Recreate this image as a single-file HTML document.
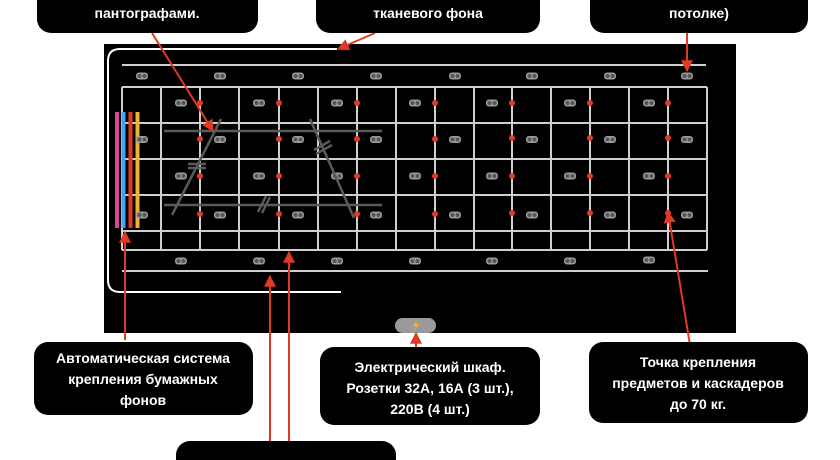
<!DOCTYPE html>
<html><head><meta charset="utf-8"><style>
html,body{margin:0;padding:0;background:#fff;width:840px;height:460px;overflow:hidden}
svg{display:block}
text{font-family:"Liberation Sans",sans-serif;font-size:14px;font-weight:bold;fill:#fff;text-anchor:middle}
</style></head><body>
<svg width="840" height="460" viewBox="0 0 840 460" xmlns="http://www.w3.org/2000/svg">
<defs>
<g id="ic"><rect x="-6" y="-3.5" width="12" height="7" rx="3" fill="#9a9a9a"/><circle cx="-2.5" cy="0" r="2" fill="#555"/><circle cx="2.5" cy="0" r="2" fill="#555"/></g>
<marker id="ah" viewBox="0 0 10 10" refX="9" refY="5" markerWidth="6" markerHeight="6" orient="auto"><path d="M0,0L10,5L0,10z" fill="#e03a25"/></marker>
</defs>
<rect x="104" y="44" width="632" height="289" fill="#000"/>
<path d="M337,49 H120 Q108,49 108,61 V280 Q108,292 120,292 H341" fill="none" stroke="#fff" stroke-width="2"/>
<g stroke="#cfcfcf" stroke-width="2" fill="none">
<line x1="122" y1="65" x2="706" y2="65"/>
<line x1="122" y1="271" x2="708" y2="271"/>
<line x1="122" y1="87" x2="707" y2="87"/>
<line x1="122" y1="123" x2="707" y2="123"/>
<line x1="122" y1="159" x2="707" y2="159"/>
<line x1="122" y1="195" x2="707" y2="195"/>
<line x1="122" y1="231" x2="707" y2="231"/>
<line x1="122" y1="250" x2="707" y2="250"/>
<line x1="122" y1="87" x2="122" y2="250"/><line x1="161" y1="87" x2="161" y2="250"/><line x1="200" y1="87" x2="200" y2="250"/><line x1="239" y1="87" x2="239" y2="250"/><line x1="279" y1="87" x2="279" y2="250"/><line x1="318" y1="87" x2="318" y2="250"/><line x1="357" y1="87" x2="357" y2="250"/><line x1="396" y1="87" x2="396" y2="250"/><line x1="435" y1="87" x2="435" y2="250"/><line x1="474" y1="87" x2="474" y2="250"/><line x1="512" y1="87" x2="512" y2="250"/><line x1="551" y1="87" x2="551" y2="250"/><line x1="590" y1="87" x2="590" y2="250"/><line x1="629" y1="87" x2="629" y2="250"/><line x1="668" y1="87" x2="668" y2="250"/><line x1="707" y1="87" x2="707" y2="250"/>
</g>
<rect x="115" y="112" width="4" height="116" fill="#e0459a"/>
<rect x="121.5" y="112" width="4" height="116" fill="#4a9ff0"/>
<rect x="128.5" y="112" width="4" height="116" fill="#e03a25"/>
<rect x="135.5" y="112" width="4" height="116" fill="#f0b030"/>
<g>
<use href="#ic" x="142" y="76"/><use href="#ic" x="220" y="76"/><use href="#ic" x="298" y="76"/><use href="#ic" x="376" y="76"/><use href="#ic" x="455" y="76"/><use href="#ic" x="532" y="76"/><use href="#ic" x="610" y="76"/><use href="#ic" x="687" y="76"/>
<use href="#ic" x="181" y="103"/><use href="#ic" x="259" y="103"/><use href="#ic" x="337" y="103"/><use href="#ic" x="415" y="103"/><use href="#ic" x="492" y="103"/><use href="#ic" x="570" y="103"/><use href="#ic" x="649" y="103"/>
<use href="#ic" x="142" y="139.5"/><use href="#ic" x="220" y="139.5"/><use href="#ic" x="298" y="139.5"/><use href="#ic" x="376" y="139.5"/><use href="#ic" x="455" y="139.5"/><use href="#ic" x="532" y="139.5"/><use href="#ic" x="610" y="139.5"/><use href="#ic" x="687" y="139.5"/>
<use href="#ic" x="181" y="176"/><use href="#ic" x="259" y="176"/><use href="#ic" x="337" y="176"/><use href="#ic" x="415" y="176"/><use href="#ic" x="492" y="176"/><use href="#ic" x="570" y="176"/><use href="#ic" x="649" y="176"/>
<use href="#ic" x="142" y="215"/><use href="#ic" x="220" y="215"/><use href="#ic" x="298" y="215"/><use href="#ic" x="376" y="215"/><use href="#ic" x="455" y="215"/><use href="#ic" x="532" y="215"/><use href="#ic" x="610" y="215"/><use href="#ic" x="687" y="215"/>
<use href="#ic" x="181" y="261"/><use href="#ic" x="259" y="261"/><use href="#ic" x="337" y="261"/><use href="#ic" x="415" y="261"/><use href="#ic" x="492" y="261"/><use href="#ic" x="570" y="261"/><use href="#ic" x="649" y="260"/>
</g>
<g fill="#e03a25">
<circle cx="200" cy="103" r="3"/><circle cx="279" cy="103" r="3"/><circle cx="357" cy="103" r="3"/><circle cx="435" cy="103" r="3"/><circle cx="512" cy="103" r="3"/><circle cx="590" cy="103" r="3"/><circle cx="668" cy="103" r="3"/>
<circle cx="200" cy="139" r="3"/><circle cx="279" cy="139" r="3"/><circle cx="357" cy="139" r="3"/><circle cx="435" cy="139" r="3"/><circle cx="512" cy="138" r="3"/><circle cx="590" cy="138" r="3"/><circle cx="668" cy="138" r="3"/>
<circle cx="200" cy="176" r="3"/><circle cx="279" cy="176" r="3"/><circle cx="357" cy="176" r="3"/><circle cx="435" cy="176" r="3"/><circle cx="512" cy="176" r="3"/><circle cx="590" cy="176" r="3"/><circle cx="668" cy="176" r="3"/>
<circle cx="200" cy="214" r="3"/><circle cx="279" cy="214" r="3"/><circle cx="357" cy="214" r="3"/><circle cx="435" cy="214" r="3"/><circle cx="512" cy="213" r="3"/><circle cx="590" cy="213" r="3"/><circle cx="668" cy="213" r="3"/>
</g>
<g stroke="#5a5a5a" stroke-width="2.5" fill="none">
<line x1="164" y1="131" x2="382" y2="131"/>
<line x1="164" y1="205" x2="382" y2="205"/>
<line x1="221" y1="119" x2="172" y2="215"/>
<line x1="310" y1="119" x2="354" y2="218"/>
<line x1="188" y1="164" x2="206" y2="164"/><line x1="188" y1="168" x2="206" y2="168"/>
<line x1="314" y1="150" x2="330" y2="141"/><line x1="316" y1="154" x2="332" y2="145"/>
<line x1="258" y1="212" x2="266" y2="196"/><line x1="262" y1="213" x2="270" y2="197"/>
</g>
<rect x="395" y="318" width="41" height="15" rx="7.5" fill="#9a9a9a"/>
<path d="M417,320 L413,326 L416,326 L414,331 L419,324 L416,324 Z" fill="#f0b030"/>
<g stroke="#e03a25" stroke-width="2" fill="none" marker-end="url(#ah)">
<line x1="152" y1="33" x2="213" y2="131"/>
<line x1="375" y1="33" x2="338" y2="49"/>
<line x1="687" y1="33" x2="687" y2="71"/>
<line x1="125" y1="340" x2="125" y2="232"/>
<line x1="270" y1="460" x2="270" y2="276"/>
<line x1="289" y1="460" x2="289" y2="252"/>
<line x1="416" y1="347" x2="416" y2="333"/>
<line x1="690" y1="345" x2="668" y2="212"/>
</g>
<g fill="#000">
<rect x="37" y="-20" width="221" height="53" rx="14"/>
<rect x="316" y="-20" width="224" height="53" rx="14"/>
<rect x="590" y="-20" width="218" height="53" rx="14"/>
<rect x="34" y="342" width="219" height="73" rx="14"/>
<rect x="320" y="347" width="220" height="78" rx="14"/>
<rect x="589" y="342" width="219" height="81" rx="14"/>
<rect x="176" y="441" width="220" height="40" rx="14"/>
</g>
<text x="147" y="18">пантографами.</text>
<text x="428" y="-3">(для подвеса</text>
<text x="428" y="18">тканевого фона</text>
<text x="699" y="18">потолке)</text>
<text x="143" y="363">Автоматическая система</text>
<text x="143" y="384">крепления бумажных</text>
<text x="143" y="405">фонов</text>
<text x="430" y="372">Электрический шкаф.</text>
<text x="430" y="393">Розетки 32А, 16А (3 шт.),</text>
<text x="430" y="414">220В (4 шт.)</text>
<text x="698" y="367">Точка крепления</text>
<text x="698" y="388">предметов и каскадеров</text>
<text x="698" y="409">до 70 кг.</text>
<text x="200" y="471" style="text-anchor:start">Фермы</text>
</svg>
</body></html>
